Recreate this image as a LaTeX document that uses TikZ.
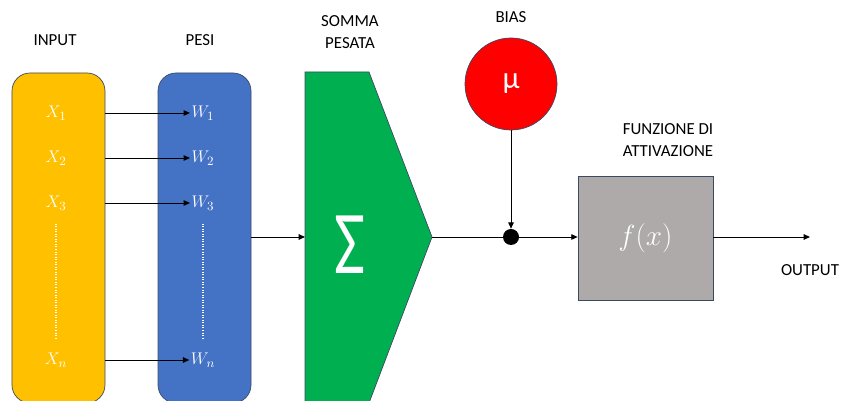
\documentclass[tikz,border=0pt]{standalone}
\usepackage{fontspec}
\setmainfont{Carlito}
\usepackage{graphicx}
\usepackage{tikz}
\usetikzlibrary{arrows.meta,positioning,calc}

\definecolor{inyellow}{HTML}{FFC000}
\definecolor{wblue}{HTML}{4472C4}
\definecolor{sumgreen}{HTML}{00B050}
\definecolor{biasred}{HTML}{FF0000}
\definecolor{actgray}{HTML}{AEAAAA}
\definecolor{edge}{HTML}{3B4A63}

\begin{document}
\begin{tikzpicture}[
                font=\fontsize{12}{15.5}\selectfont,
                column/.style={draw=edge, line width=0.5pt, rounded corners=0.45cm, minimum width=2.325cm, minimum height=8.25cm},
                var/.style={text=white, inner sep=1pt, font=\fontsize{13}{15}\selectfont},
                arr/.style={-{Triangle[length=1.6mm, width=1.4mm]}, line width=0.7pt},
                vdots/.style={white, line width=1.3pt, dash pattern=on 0.7pt off 1.1pt, shorten <=0.3cm, shorten >=0.3cm},
                title/.style={align=center, inner sep=1pt}
            ]
            \useasboundingbox (0,0) rectangle (21.075,10.025);

            % ingressi e pesi
            \node[column, fill=inyellow] (inbox) at (1.4625,4.075) {};
            \node[column, fill=wblue] (wbox) at (5.1125,4.075) {};
            \foreach \i/\y in {1/7.2, 2/6.075, 3/4.95, n/1.025} {
                \node[var] (X\i) at (1.4,\y) {$X_{\i}$};
                \node[var] (W\i) at (5.075,\y) {$W_{\i}$};
                \draw[arr] (X\i -| inbox.east) -- (W\i.west);
            }
            \draw[vdots] (X3.south) -- (Xn.north);
            \draw[vdots] (W3.south) -- (Wn.north);

            % somma pesata
            \draw[draw=edge, line width=0.5pt, fill=sumgreen] (7.625,-0.05) -- (7.625,8.225) -- (9.225,8.225)
            -- (10.8,4.1) coordinate (sumtip) -- (9.225,-0.05) -- cycle;
            \coordinate (sumin) at (7.625,4.1);
            \node[text=white, font=\fontsize{48}{48}\selectfont] (sum) at (8.75,3.9) {\scalebox{1}[1.33]{Σ}};

            % bias e funzione di attivazione
            \node[circle, fill=black, minimum size=0.4cm, inner sep=0pt] (add) at (12.775,4.1) {};
            \node[circle, draw=edge, line width=0.5pt, fill=biasred, minimum size=2.3cm, text=white,
                font=\fontsize{22}{22}\selectfont] (bias) at (12.775,7.925) {μ};
            \node[draw=edge, line width=0.5pt, fill=actgray, minimum width=3.375cm, minimum height=3.1cm,
                text=white, font=\fontsize{21}{21}\selectfont] (act) at (16.1375,4.075) {$f(x)$};
            \coordinate (out) at (20.25,4.1);

            \draw[arr] (wbox.east |- sumin) -- (sumin);
            \draw[line width=0.7pt] (sumtip) -- (add);
            \draw[arr] (bias) -- (add);
            \draw[arr] (add) -- (act.west |- add);
            \draw[arr] (act.east |- add) -- (out);

            % etichette
            \node[title] (tin) at (1.375,9.025) {INPUT};
            \node[title] (tw) at (5.0,9.025) {PESI};
            \node[title] (tsum) at (8.75,9.225) {SOMMA\\PESATA};
            \node[title] (tbias) at (12.775,9.6) {BIAS};
            \node[title] (tact) at (16.7,6.525) {FUNZIONE DI\\ATTIVAZIONE};
            \node[title] (tout) at (20.25,3.275) {OUTPUT};
        \end{tikzpicture}
\end{document}
